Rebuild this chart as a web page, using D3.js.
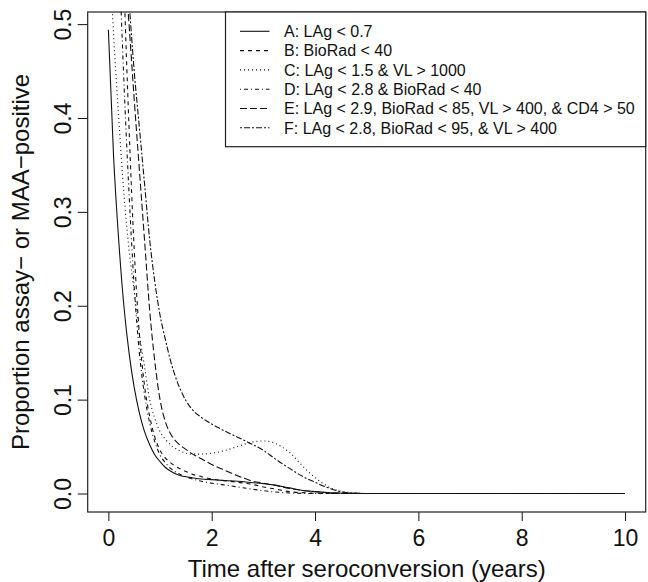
<!DOCTYPE html>
<html>
<head>
<meta charset="utf-8">
<script src="https://cdn.jsdelivr.net/npm/d3@7"></script>
<style>
  body { margin: 0; background: #fff; }
  text { font-family: "Liberation Sans", Arial, Helvetica, sans-serif; fill: #111; }
</style>
</head>
<body>
<div id="chart"></div>
<script>
// time grid (years after seroconversion)
var years = [0, 0.1, 0.2, 0.3, 0.4, 0.5, 0.6, 0.7, 0.8, 0.9, 1.0, 1.1, 1.2, 1.3, 1.4, 1.5, 1.6, 1.8, 2.0, 2.2,
             2.5, 2.8, 3.0, 3.2, 3.5, 3.8, 4.0, 4.3, 4.6, 5, 6, 7, 8, 9, 10];

// proportion assay- or MAA-positive, one array per algorithm
var seriesA = [0.494, 0.36, 0.27, 0.20, 0.15, 0.113, 0.086, 0.066, 0.052, 0.041, 0.034, 0.028, 0.024, 0.021, 0.019, 0.0178, 0.017, 0.0155, 0.0148, 0.014,
               0.013, 0.0115, 0.0105, 0.0092, 0.006, 0.003, 0.002, 0.0008, 0.0002, 0, 0, 0, 0, 0, 0];
var seriesB = [1.5, 1.08, 0.77, 0.55, 0.39, 0.26, 0.17, 0.115, 0.082, 0.06, 0.046, 0.038, 0.033, 0.029, 0.026, 0.0235, 0.021, 0.018, 0.0155, 0.014,
               0.012, 0.0095, 0.007, 0.005, 0.002, 0.0008, 0.0003, 0, 0, 0, 0, 0, 0, 0, 0];
var seriesC = [0.60, 0.49, 0.40, 0.32, 0.26, 0.215, 0.17, 0.135, 0.10, 0.08, 0.066, 0.058, 0.052, 0.048, 0.045, 0.043, 0.042, 0.042, 0.043, 0.045,
               0.05, 0.055, 0.056, 0.054, 0.044, 0.027, 0.017, 0.006, 0.0015, 0, 0, 0, 0, 0, 0];
var seriesD = [1.08, 0.80, 0.59, 0.44, 0.32, 0.22, 0.15, 0.105, 0.075, 0.055, 0.041, 0.033, 0.027, 0.023, 0.02, 0.018, 0.016, 0.013, 0.011, 0.0095,
               0.007, 0.0045, 0.003, 0.0018, 0.0006, 0.0001, 0, 0, 0, 0, 0, 0, 0, 0, 0];
var seriesE = [1.0, 0.85, 0.70, 0.58, 0.50, 0.42, 0.345, 0.27, 0.195, 0.14, 0.10, 0.077, 0.064, 0.056, 0.051, 0.047, 0.043, 0.037, 0.031, 0.026,
               0.019, 0.013, 0.011, 0.009, 0.0055, 0.003, 0.002, 0.0008, 0.0002, 0, 0, 0, 0, 0, 0];
var seriesF = [0.95, 0.83, 0.72, 0.61, 0.525, 0.45, 0.39, 0.33, 0.27, 0.225, 0.19, 0.165, 0.142, 0.124, 0.11, 0.099, 0.091, 0.081, 0.074, 0.068,
               0.06, 0.052, 0.046, 0.038, 0.027, 0.017, 0.012, 0.005, 0.001, 0, 0, 0, 0, 0, 0];

var legendLabels = ["A: LAg < 0.7",
                    "B: BioRad < 40",
                    "C: LAg < 1.5 & VL > 1000",
                    "D: LAg < 2.8 & BioRad < 40",
                    "E: LAg < 2.9, BioRad < 85, VL > 400, & CD4 > 50",
                    "F: LAg < 2.8, BioRad < 95, & VL > 400"];
var xTicks = [0, 2, 4, 6, 8, 10];
var yTicks = [0, 0.1, 0.2, 0.3, 0.4, 0.5];

var allSeries = [seriesA, seriesB, seriesC, seriesD, seriesE, seriesF];
// R line types 1..6
var dashes = [null, "4,4", "1,3", "1,3,4,3", "7,3", "2,2,6,2"];

var margin = {top: 12, right: 2.3, bottom: 70, left: 87.7},
    width = 648 - margin.left - margin.right,
    height = 582 - margin.top - margin.bottom;

var svg = d3.select("#chart")
  .append("svg")
    .attr("width", 648)
    .attr("height", 582)
  .append("g")
    .attr("transform", "translate(" + margin.left + "," + margin.top + ")");

// R style: 4% padding around the data range
var x = d3.scaleLinear()
    .domain([-0.4, 10.4])
    .range([0, width]);
var y = d3.scaleLinear()
    .domain([-0.0197, 0.5129])
    .range([height, 0]);

svg.append("clipPath")
    .attr("id", "plotClip")
  .append("rect")
    .attr("width", width)
    .attr("height", height);

// axes
var xAxis = svg.append("g")
    .attr("transform", "translate(0," + height + ")")
    .call(d3.axisBottom(x).tickValues(xTicks).tickFormat(d3.format("d"))
      .tickSize(9).tickSizeOuter(0).tickPadding(8.4));
xAxis.select(".domain").remove();
xAxis.selectAll("text").style("font-size", "23px").style("font-family", null);
xAxis.selectAll("line").attr("stroke", "#111");

var yAxis = svg.append("g")
    .call(d3.axisLeft(y).tickValues(yTicks).tickFormat(d3.format(".1f"))
      .tickSize(10).tickSizeOuter(0));
yAxis.select(".domain").remove();
yAxis.selectAll("line").attr("stroke", "#111");
yAxis.selectAll("text")
    .style("font-size", "23px")
    .attr("transform", "rotate(-90)")
    .attr("text-anchor", "middle")
    .attr("x", 0)
    .attr("y", -17.2)
    .attr("dy", null);

// plot box
svg.append("rect")
    .attr("width", width)
    .attr("height", height)
    .attr("fill", "none")
    .attr("stroke", "#222")
    .attr("stroke-width", 1.2);

// curves
var line = d3.line()
    .x(function(d, i) { return x(years[i]) })
    .y(function(d) { return y(d) })
    .curve(d3.curveMonotoneX);

svg.append("g")
    .attr("clip-path", "url(#plotClip)")
  .selectAll("path")
  .data(allSeries)
  .enter()
  .append("path")
    .attr("d", line)
    .attr("fill", "none")
    .attr("stroke", "#111")
    .attr("stroke-width", 1.1)
    .attr("stroke-dasharray", function(d, i) { return dashes[i] });

// legend, top right
var legend = svg.append("g")
    .attr("transform", "translate(" + (225.5 - margin.left) + ",0)");
legend.append("rect")
    .attr("width", width - (225.5 - margin.left))
    .attr("height", 134.7)
    .attr("fill", "#fff")
    .attr("stroke", "#222")
    .attr("stroke-width", 1.2);

var rows = legend.selectAll(".row")
  .data(legendLabels)
  .enter()
  .append("g")
    .attr("transform", function(d, i) { return "translate(0," + (19.3 + i * 19.3) + ")" });
rows.append("line")
    .attr("x1", 14.5).attr("x2", 44)
    .attr("stroke", "#111")
    .attr("stroke-width", 1.1)
    .attr("stroke-dasharray", function(d, i) { return dashes[i] });
rows.append("text")
    .attr("x", 58.5)
    .attr("dy", "0.36em")
    .style("font-size", "16px")
    .text(function(d) { return d });

// axis titles
svg.append("text")
    .attr("x", width / 2)
    .attr("y", 577 - margin.top)
    .attr("text-anchor", "middle")
    .style("font-size", "24px")
    .text("Time after seroconversion (years)");

svg.append("text")
    .attr("transform", "translate(" + (29.5 - margin.left) + "," + (height / 2) + ") rotate(-90)")
    .attr("text-anchor", "middle")
    .style("font-size", "24px")
    .text("Proportion assay\u2212 or MAA\u2212positive");
</script>
</body>
</html>
